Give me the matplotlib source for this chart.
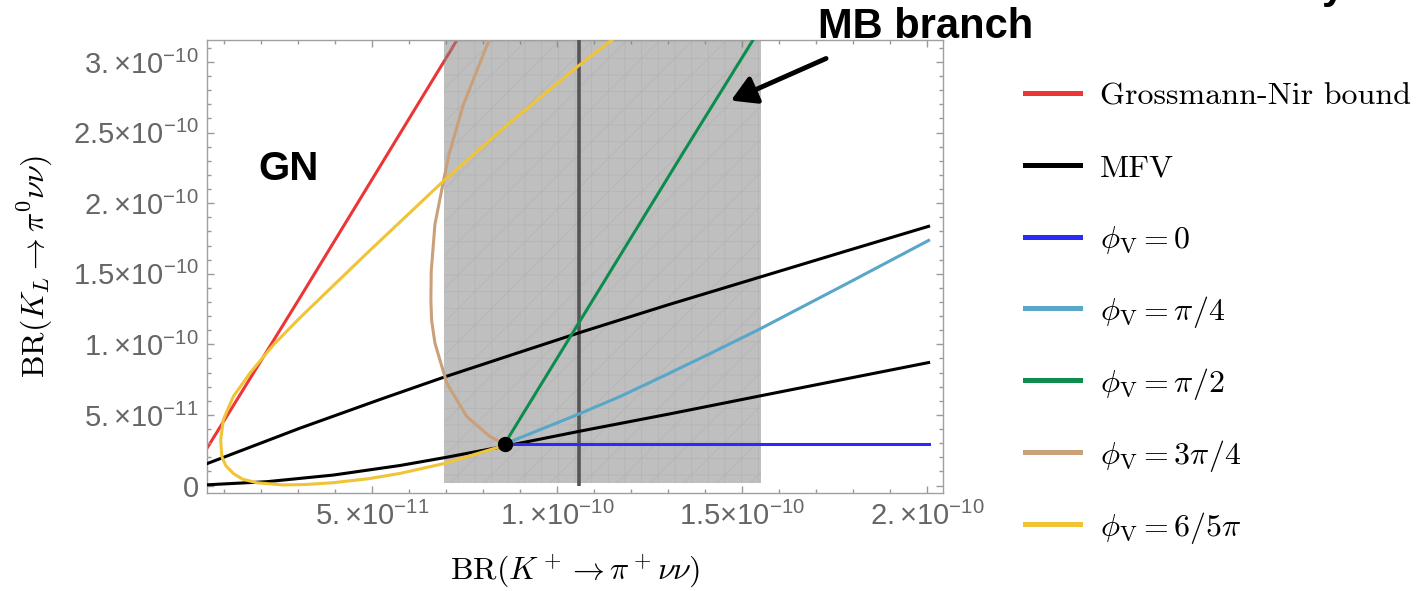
import matplotlib
matplotlib.use('Agg')
import matplotlib.pyplot as plt
from matplotlib.lines import Line2D
from matplotlib.ticker import MultipleLocator

# all values in units of 1e-11
grossmann_nir_x = [0.54, 3.05, 7.40]
grossmann_nir_y = [2.64, 13.3, 32.0]

mfv_upper_x = [0.54, 3.05, 5.22, 6.97, 9.0, 10.62, 13.0, 15.49, 17.8, 20.04]
mfv_upper_y = [1.55, 4.06, 6.10, 7.70, 9.45, 10.84, 12.8, 14.77, 16.6, 18.36]

mfv_lower_x = [0.54, 2.15, 3.95, 5.76, 6.97, 8.46, 10.62, 13.0, 15.49, 17.8, 20.04]
mfv_lower_y = [0.05, 0.27, 0.74, 1.42, 1.98, 2.72, 3.85, 5.05, 6.35, 7.55, 8.71]

phi_0_x = [8.58, 20.05]
phi_0_y = [2.94, 2.94]

phi_pi4_x = [8.58, 10.53, 11.7, 12.87, 14.1, 15.49, 17.83, 20.04]
phi_pi4_y = [2.94, 5.0, 6.3, 7.75, 9.3, 11.1, 14.3, 17.36]

phi_pi2_x = [8.58, 13.46, 15.40]
phi_pi2_y = [2.94, 23.8, 32.0]

phi_3pi4_x = [8.58, 8.19, 7.56, 7.02, 6.70, 6.61, 6.59, 6.60, 6.70, 6.93, 7.08, 7.47, 8.19, 8.35]
phi_3pi4_y = [2.94, 3.46, 4.88, 7.25, 10.09, 11.7, 13.16, 15.19, 18.5, 21.57, 23.46, 27.0, 31.74, 32.6]

phi_6pi5_x = [8.58, 8.46, 6.97, 5.76, 4.9, 3.95, 3.2, 2.6, 1.88, 1.5, 1.25, 1.05, 0.94, 0.91,
              0.98, 1.25, 1.70, 2.33, 3.05, 4.86, 6.93, 8.70, 10.58, 11.57, 11.8]
phi_6pi5_y = [2.94, 2.75, 1.57, 0.86, 0.48, 0.2, 0.07, 0.04, 0.2, 0.45, 0.86, 1.4, 2.04, 3.23,
              4.65, 6.3, 7.96, 9.95, 11.88, 16.45, 21.57, 25.65, 29.73, 31.74, 32.2]

sm_point = (8.58, 2.94)

# NA62 measurement of BR(K+ -> pi+ nu nu)
na62_central = 10.58
na62_band_x = [6.95, 15.5]
na62_band_lo = 0.15
na62_band_hi = 40

xtick_pos = [5, 10, 15, 20]
xtick_labels = ['$5.×10^{-11}$', '$1.×10^{-10}$', '$1.5×10^{-10}$', '$2.×10^{-10}$']
ytick_pos = [0, 5, 10, 15, 20, 25, 30]
ytick_labels = ['0', '$5.×10^{-11}$', '$1.×10^{-10}$', '$1.5×10^{-10}$', '$2.×10^{-10}$',
                '$2.5×10^{-10}$', '$3.×10^{-10}$']

colors = {
    'red': '#ee3535',
    'black': '#000000',
    'blue': '#2b2bf5',
    'lightblue': '#58a6c8',
    'green': '#0e8c4e',
    'tan': '#c9a07a',
    'yellow': '#f0c436',
}

plt.rcParams['mathtext.fontset'] = 'custom'
plt.rcParams['mathtext.rm'] = 'Liberation Sans'
plt.rcParams['mathtext.it'] = 'Liberation Sans:italic'
plt.rcParams['mathtext.bf'] = 'Liberation Sans:bold'
plt.rcParams['hatch.linewidth'] = 0.5

fig = plt.figure(figsize=(14.2, 5.91), dpi=100)
ax = fig.add_axes([207/1420, 1-493/591, (943-207)/1420, (493-40)/591])

lw = 2.2
ax.plot(grossmann_nir_x, grossmann_nir_y, color=colors['red'], lw=lw, zorder=1)
ax.fill_between(na62_band_x, na62_band_lo, na62_band_hi, facecolor='#808080', edgecolor='#a8a8a8',
                alpha=0.5, hatch='+/', lw=0, zorder=2)
ax.vlines(na62_central, 0, na62_band_hi, color='#555555', lw=2.6, zorder=3)
ax.plot(mfv_upper_x, mfv_upper_y, color=colors['black'], lw=lw, zorder=4)
ax.plot(mfv_lower_x, mfv_lower_y, color=colors['black'], lw=lw, zorder=4)
ax.plot(phi_0_x, phi_0_y, color=colors['blue'], lw=lw, zorder=4)
ax.plot(phi_pi4_x, phi_pi4_y, color=colors['lightblue'], lw=lw, zorder=4)
ax.plot(phi_pi2_x, phi_pi2_y, color=colors['green'], lw=lw, zorder=4)
ax.plot(phi_3pi4_x, phi_3pi4_y, color=colors['tan'], lw=lw, zorder=4)
ax.plot(phi_6pi5_x, phi_6pi5_y, color=colors['yellow'], lw=lw, zorder=4)
ax.plot(*sm_point, 'o', color='black', ms=10, zorder=6)

ax.set_xlim(0.54, 20.43)
ax.set_ylim(-0.53, 31.56)

ax.set_xticks(xtick_pos, labels=xtick_labels)
ax.set_yticks(ytick_pos, labels=ytick_labels)
ax.xaxis.set_minor_locator(MultipleLocator(1))
ax.yaxis.set_minor_locator(MultipleLocator(1))
ax.tick_params(which='both', direction='in', top=True, right=True, color='#999999', width=1,
               labelsize=21, labelcolor='#666666', pad=6)
ax.tick_params(which='major', length=5)
ax.tick_params(which='minor', length=3)
for lab in ax.get_xticklabels() + ax.get_yticklabels():
    lab.set_fontfamily('Liberation Sans')
for sp in ax.spines.values():
    sp.set_color('#a0a0a0')
    sp.set_linewidth(1)

# arrow to the MB branch
ax.annotate('', xy=(14.70, 27.27), xytext=(17.27, 30.25), annotation_clip=False,
            arrowprops=dict(arrowstyle='-|>,head_length=0.6,head_width=0.35', lw=3.5,
                            color='black', mutation_scale=25, shrinkA=0, shrinkB=0))

fig.text(258/1420, 1-180/591, 'GN', fontsize=29, weight='bold', family='Liberation Sans',
         va='baseline', ha='left')
fig.text(818/1420, 1-38/591, 'MB branch', fontsize=30, weight='bold', family='Liberation Sans',
         va='baseline', ha='left')
# only the tail of a letter from a cut-off title shows at the top edge
fig.text(1322/1420, 1-7/591, 'y', fontsize=30, weight='bold', family='Liberation Sans',
         va='bottom', ha='left')

fig.text(35/1420, 1-267/591, r'$\mathrm{BR}(K_L \rightarrow \pi^0 \nu\nu)$', rotation=90,
         ha='center', va='center', fontsize=23, math_fontfamily='cm')
fig.text(575/1420, 1-571/591, r'$\mathrm{BR}(K^+ \rightarrow \pi^+ \nu\nu)$',
         ha='center', va='center', fontsize=23, math_fontfamily='cm')

# legend, drawn by hand
legend_entries = [
    ('red', 'Grossmann-Nir bound', False),
    ('black', 'MFV', False),
    ('blue', r'$\phi_{\mathrm{V}} = 0$', True),
    ('lightblue', r'$\phi_{\mathrm{V}} = \pi/4$', True),
    ('green', r'$\phi_{\mathrm{V}} = \pi/2$', True),
    ('tan', r'$\phi_{\mathrm{V}} = 3\pi/4$', True),
    ('yellow', r'$\phi_{\mathrm{V}} = 6/5\pi$', True),
]
for i, (c, label, is_math) in enumerate(legend_entries):
    ypx = 92.7 + 71.9 * i
    fig.add_artist(Line2D([1025/1420, 1080/1420], [1-ypx/591, 1-ypx/591],
                          transform=fig.transFigure, color=colors[c], lw=3.6))
    if is_math:
        fig.text(1100/1420, 1-(ypx+12)/591, label, fontsize=23, math_fontfamily='cm',
                 va='baseline', ha='left')
    else:
        fig.text(1100/1420, 1-(ypx+12)/591, label, fontsize=23, family='cmr10',
                 va='baseline', ha='left')

fig.savefig('out.png', dpi=100)
